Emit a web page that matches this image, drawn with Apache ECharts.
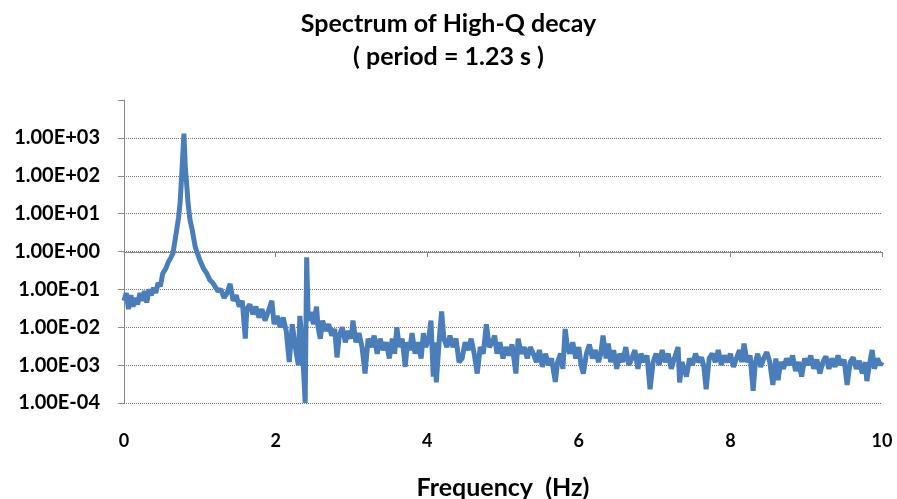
<!DOCTYPE html>
<html>
<head>
<meta charset="utf-8">
<script src="https://cdn.jsdelivr.net/npm/echarts@6/dist/echarts.min.js"></script>
<style>html,body{margin:0;padding:0;background:#fff;overflow:hidden}#c{width:897px;height:499px}</style>
</head>
<body>
<div id="c"></div>
<script>
const titleLines = ['Spectrum of High-Q decay', '( period = 1.23 s )'];
const xAxisTitle = 'Frequency  (Hz)';
const xTicks = [0, 2, 4, 6, 8, 10];
const yTickExponents = [-4, -3, -2, -1, 0, 1, 2, 3];

// [frequency (Hz), amplitude]
const lowBand = [
  [0.00,0.05],[0.03,0.08],[0.06,0.03],[0.09,0.07],[0.12,0.035],[0.15,0.06],[0.18,0.04],
  [0.21,0.08],[0.24,0.05],[0.27,0.09],[0.30,0.045],[0.33,0.1],[0.36,0.07],[0.39,0.11],
  [0.42,0.08],[0.45,0.15],[0.48,0.12],[0.51,0.26],[0.55,0.35],[0.58,0.5],[0.62,0.7]
];
const peakBand = [
  [0.646,0.9],[0.67,1.8],[0.695,3.7],[0.72,8],[0.74,19],[0.765,140],[0.79,1300],
  [0.81,150],[0.83,50],[0.845,19],[0.87,7],[0.90,3.7],[0.94,1.3],[1.00,0.6],
  [1.05,0.35],[1.095,0.26],[1.13,0.18],[1.17,0.15]
];
const midBand = [
  [1.20,0.12],[1.24,0.09],[1.28,0.1],[1.32,0.06],[1.36,0.08],[1.40,0.14],[1.44,0.05],
  [1.48,0.07],[1.52,0.035],[1.56,0.05],[1.60,0.005],[1.62,0.03],[1.66,0.04],[1.70,0.022],
  [1.74,0.035],[1.78,0.018],[1.82,0.03],[1.86,0.015],[1.90,0.025],[1.95,0.05],[1.98,0.012],
  [2.02,0.02],[2.06,0.01],[2.10,0.018],[2.14,0.008],[2.18,0.0012],[2.22,0.012],[2.26,0.003],
  [2.30,0.001],[2.32,0.02],[2.35,0.004],[2.39,0.0001],[2.41,0.7],[2.43,0.015],[2.46,0.025],
  [2.50,0.012],[2.54,0.035],[2.56,0.01],[2.59,0.005],[2.62,0.015],[2.66,0.008],[2.70,0.012],
  [2.74,0.006],[2.78,0.009],[2.81,0.0016],[2.84,0.006],[2.88,0.01],[2.92,0.004],[2.96,0.008],
  [3.00,0.005],[3.02,0.015],[3.06,0.004],[3.10,0.007],[3.14,0.003],[3.18,0.0006],[3.22,0.005],
  [3.26,0.003],[3.30,0.006],[3.34,0.002],[3.38,0.005],[3.42,0.0025],[3.46,0.004],[3.50,0.0015],
  [3.54,0.005],[3.57,0.002],[3.60,0.01],[3.63,0.003],[3.67,0.005],[3.71,0.0009],[3.74,0.004],
  [3.77,0.0025],[3.80,0.007],[3.84,0.002],[3.88,0.004],[3.92,0.0015],[3.95,0.007],[3.98,0.003]
];
const highBand = [
  [4.02,0.005],[4.05,0.015],[4.08,0.0005],[4.10,0.004],[4.12,0.00035],[4.16,0.005],[4.19,0.026],
  [4.22,0.005],[4.26,0.003],[4.30,0.006],[4.34,0.003],[4.38,0.005],[4.42,0.0012],[4.46,0.0015],
  [4.50,0.004],[4.54,0.0025],[4.58,0.005],[4.62,0.002],[4.66,0.0006],[4.70,0.003],[4.74,0.002],
  [4.78,0.012],[4.82,0.003],[4.86,0.004],[4.89,0.006],[4.92,0.002],[4.96,0.004],[5.00,0.0015],
  [5.04,0.003],[5.08,0.0018],[5.12,0.0035],[5.17,0.0006],[5.20,0.005],[5.24,0.002],[5.28,0.003],
  [5.32,0.0015],[5.36,0.003],[5.40,0.002],[5.44,0.0012],[5.48,0.0025],[5.52,0.0009],[5.56,0.002],
  [5.60,0.001],[5.64,0.0015],[5.69,0.00036],[5.72,0.0012],[5.76,0.002],[5.79,0.0008],[5.82,0.009],
  [5.85,0.003],[5.88,0.002],[5.92,0.004],[5.96,0.0015],[6.00,0.003],[6.03,0.001],[6.06,0.0006],
  [6.10,0.002],[6.14,0.0035],[6.18,0.0015],[6.22,0.0025],[6.26,0.0012],[6.29,0.002],[6.32,0.006],
  [6.36,0.0015],[6.39,0.0037],[6.42,0.0012],[6.46,0.0025],[6.50,0.0008],[6.54,0.002],[6.58,0.0012],
  [6.62,0.003],[6.66,0.001],[6.70,0.0015],[6.74,0.0025],[6.78,0.0008],[6.82,0.002],[6.86,0.0012],
  [6.90,0.0018],[6.94,0.00023],[6.98,0.0012]
];
const topBand = [
  [7.02,0.002],[7.06,0.001],[7.10,0.0025],[7.14,0.0012],[7.18,0.002],[7.22,0.0008],[7.26,0.0015],
  [7.31,0.003],[7.33,0.00035],[7.36,0.0012],[7.42,0.0005],[7.46,0.0015],[7.50,0.001],[7.54,0.002],
  [7.58,0.0012],[7.62,0.0016],[7.65,0.0009],[7.68,0.00023],[7.72,0.0015],[7.76,0.002],[7.80,0.0012],
  [7.84,0.0025],[7.88,0.001],[7.92,0.0018],[7.96,0.0012],[8.00,0.002],[8.04,0.0009],[8.08,0.0015],
  [8.12,0.0025],[8.15,0.0012],[8.18,0.0037],[8.22,0.0012],[8.26,0.0018],[8.30,0.00021],[8.33,0.0012],
  [8.36,0.002],[8.40,0.0009],[8.44,0.0015],[8.48,0.0022],[8.52,0.0012],[8.56,0.0003],[8.60,0.0015],
  [8.63,0.0004],[8.66,0.0012],[8.70,0.0008],[8.74,0.0015],[8.78,0.001],[8.82,0.0018],[8.86,0.0007],
  [8.90,0.0012],[8.94,0.0005],[8.98,0.0015],[9.02,0.001],[9.06,0.0018],[9.10,0.0008],[9.14,0.0014],
  [9.18,0.0006],[9.22,0.0012],[9.26,0.0017],[9.30,0.0008],[9.34,0.0015],[9.38,0.0009],[9.42,0.0018],
  [9.46,0.001],[9.50,0.0014],[9.54,0.0003],[9.58,0.0012],[9.62,0.0016],[9.66,0.0008],[9.70,0.0013],
  [9.74,0.0006],[9.78,0.0012],[9.80,0.00038],[9.84,0.0012],[9.87,0.0025],[9.90,0.0008],[9.94,0.0015],
  [9.98,0.001],[10.00,0.0012]
];

const spectrum = [].concat(lowBand, peakBand, midBand, highBand, topBand);

function sciLabel(v) {
  const e = Math.round(Math.log10(v));
  if (yTickExponents.indexOf(e) < 0) return '';
  const sign = e < 0 ? '-' : '+';
  const a = Math.abs(e);
  return '1.00E' + sign + (a < 10 ? '0' + a : '' + a);
}

const font = 'Lato, "Open Sans", sans-serif';
const gray = '#8a8a8a';

const chart = echarts.init(document.getElementById('c'), null, {renderer: 'canvas', width: 897, height: 499});
chart.setOption({
  animation: false,
  backgroundColor: '#fff',
  title: {
    text: titleLines.join('\n'),
    left: 'center',
    top: 2,
    textStyle: {fontFamily: font, fontWeight: 'bold', fontSize: 25, lineHeight: 33, color: '#000'}
  },
  grid: {left: 124, top: 100, width: 758, height: 303, containLabel: false, outerBoundsMode: 'none'},
  xAxis: [
    {
      type: 'value', min: 0, max: 10, interval: 2,
      position: 'bottom',
      name: xAxisTitle, nameLocation: 'middle', nameGap: 72,
      nameTextStyle: {fontFamily: font, fontWeight: 'bold', fontSize: 25, color: '#000'},
      axisLine: {show: false}, axisTick: {show: false},
      axisLabel: {margin: 29, fontFamily: font, fontWeight: 'bold', fontSize: 18, color: '#000',
                  formatter: v => xTicks.indexOf(v) >= 0 ? String(v) : ''},
      splitLine: {show: false}
    },
    {
      type: 'value', min: 0, max: 10, interval: 2,
      position: 'bottom', offset: -151,
      axisLine: {show: true, lineStyle: {color: gray, width: 1}},
      axisTick: {show: true, length: 5, lineStyle: {color: gray}},
      axisLabel: {show: false},
      splitLine: {show: false}
    }
  ],
  yAxis: {
    type: 'log', logBase: 10, min: 0.0001, max: 10000, splitNumber: 8,
    axisLine: {show: true, lineStyle: {color: gray, width: 1}},
    axisTick: {show: true, length: 6, lineStyle: {color: gray}},
    axisLabel: {margin: 24, fontFamily: font, fontWeight: 'bold', fontSize: 20, color: '#000', formatter: sciLabel},
    splitLine: {show: true, showMaxLine: false, lineStyle: {type: 'dotted', color: '#7a7a7a', width: 1}}
  },
  series: [{
    type: 'line',
    xAxisIndex: 0,
    data: spectrum,
    showSymbol: false,
    lineStyle: {color: '#4a7ebb', width: 5},
    z: 3
  }]
});
</script>
</body>
</html>
